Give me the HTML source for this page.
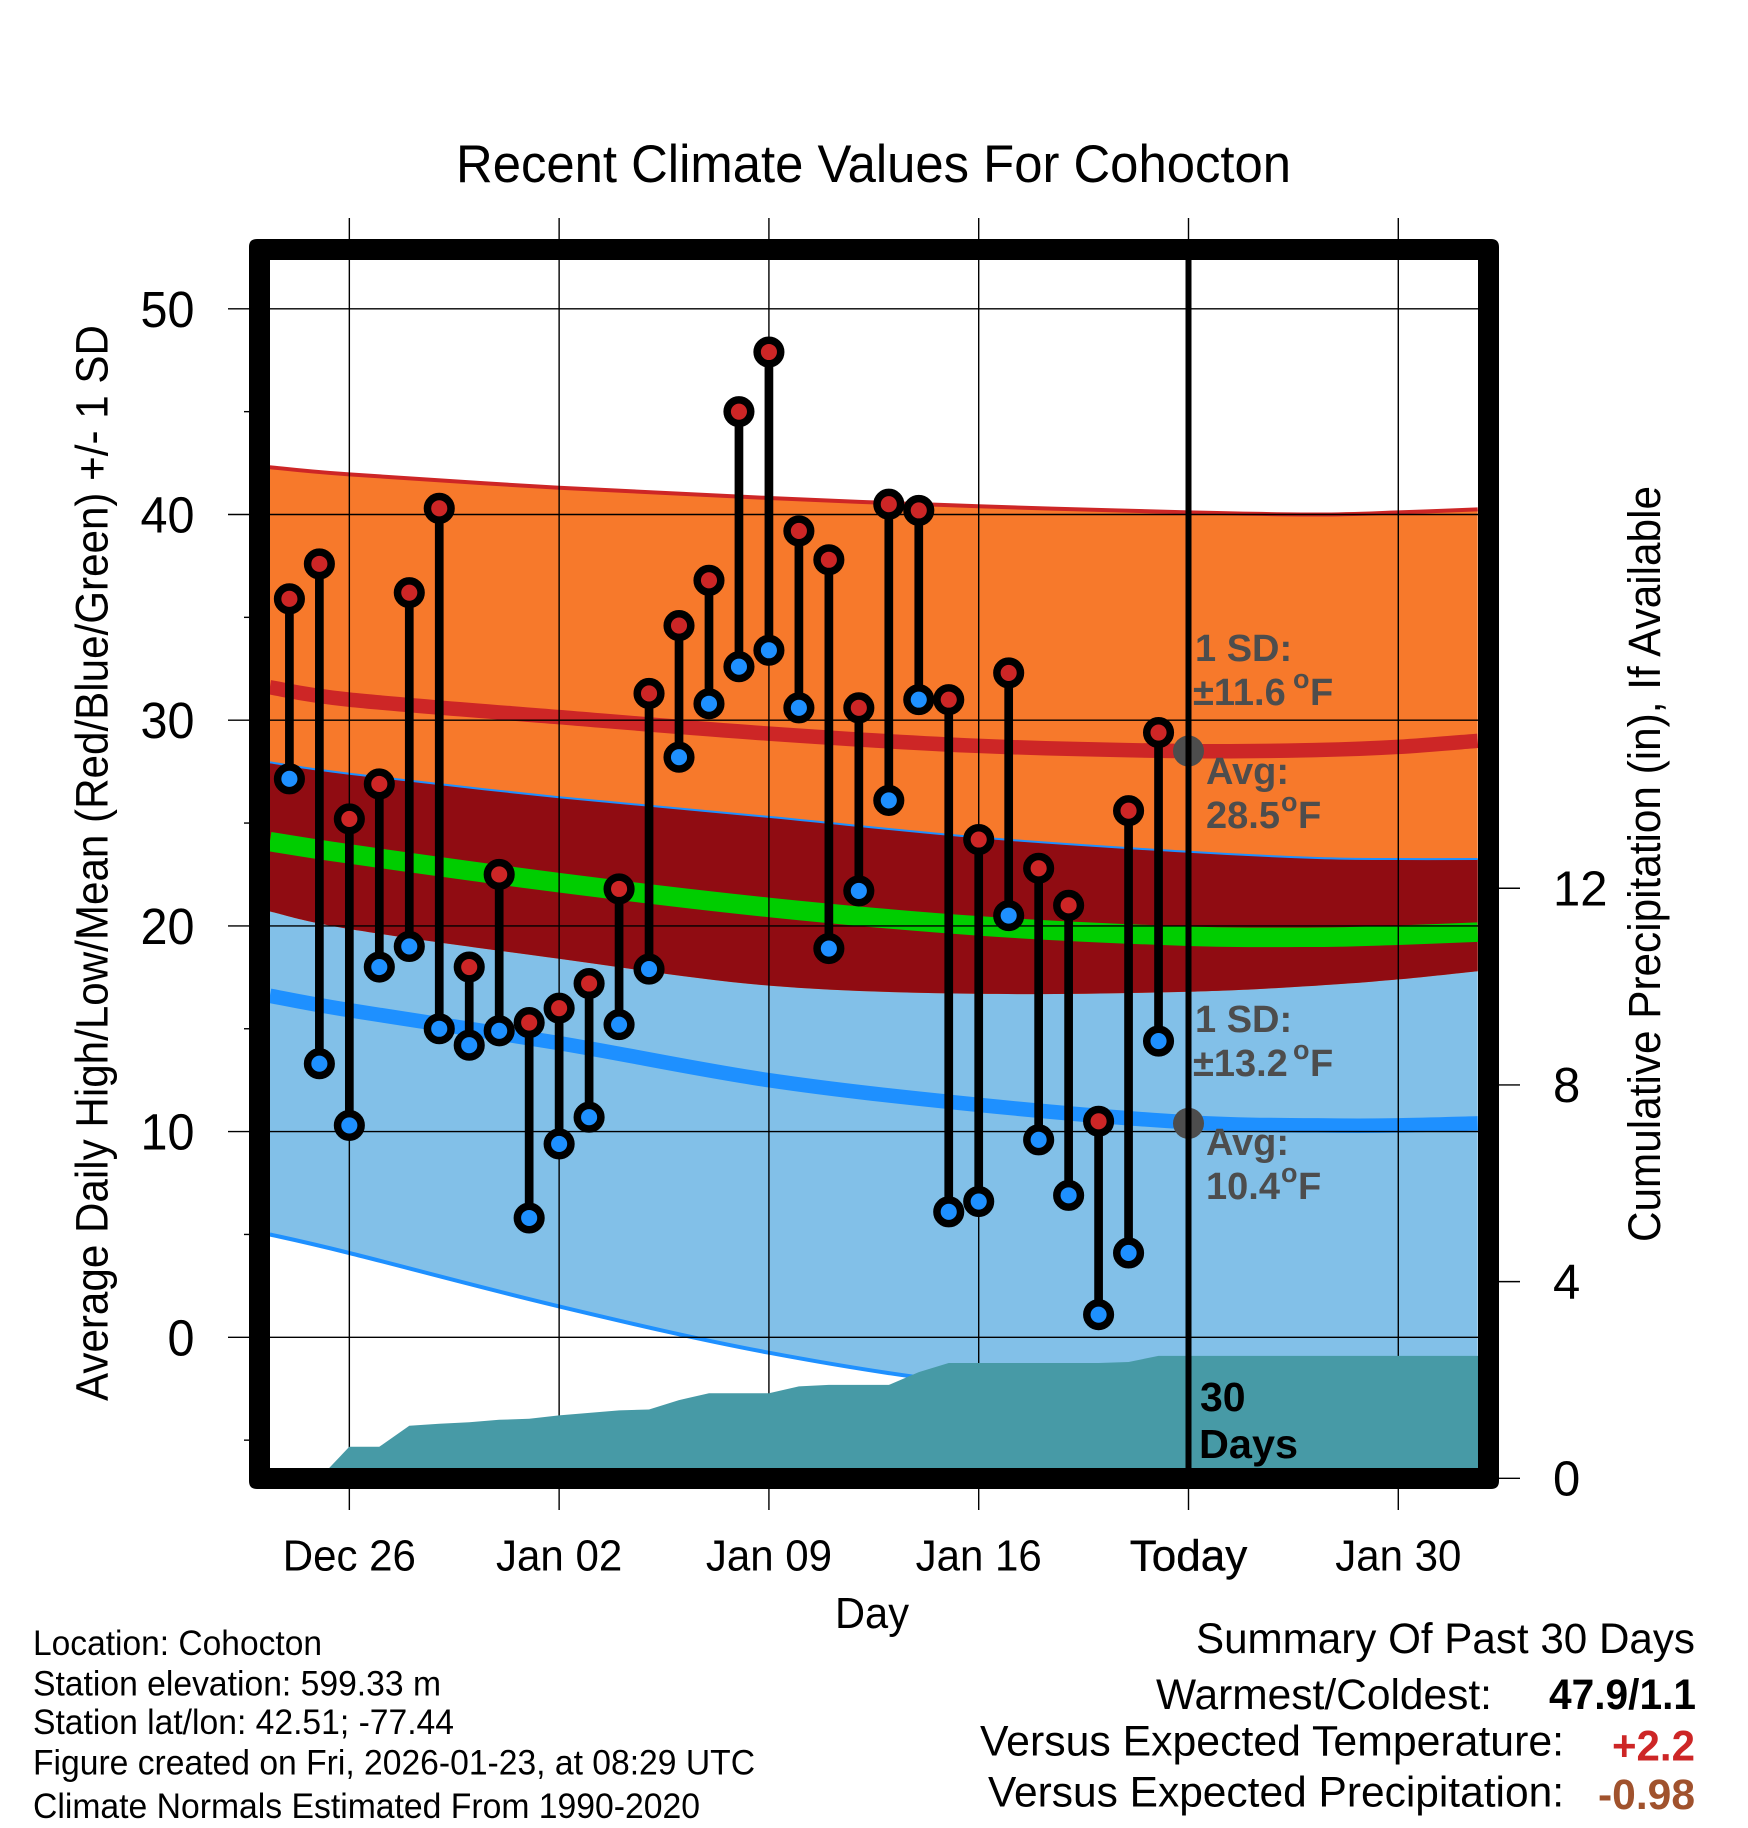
<!DOCTYPE html>
<html lang="en">
<head>
<meta charset="utf-8">
<title>Recent Climate Values For Cohocton</title>
<style>
html,body{margin:0;padding:0;background:#fff;}
svg{display:block;}
text{font-family:"Liberation Sans",Arial,sans-serif;fill:#000;}
.note{font-weight:bold;fill:#4d4d4d;font-size:38px;}
</style>
</head>
<body>
<svg id="chart" xmlns="http://www.w3.org/2000/svg" width="1748" height="1828" viewBox="0 0 1748 1828">
<defs><clipPath id="plot-clip"><rect x="270" y="260" width="1208" height="1208"/></clipPath></defs>
<rect x="0" y="0" width="1748" height="1828" fill="#fff"/>
<g id="bands" clip-path="url(#plot-clip)"></g>
<g id="grid"></g>
<g id="lines" clip-path="url(#plot-clip)"></g>
<g id="precip" clip-path="url(#plot-clip)"></g>
<g id="today"></g>
<g id="marks"></g>
<path fill="#000" fill-rule="evenodd" d="M257 239H1491Q1499 239 1499 247V1481Q1499 1489 1491 1489H257Q249 1489 249 1481V247Q249 239 257 239ZM270 260V1468H1478V260Z"/>
<g id="labels"></g>

<text x="456" y="182" font-size="53" textLength="835" lengthAdjust="spacingAndGlyphs">Recent Climate Values For Cohocton</text>
<text transform="translate(107.5,1401) rotate(-90)" font-size="45" textLength="1076" lengthAdjust="spacingAndGlyphs">Average Daily High/Low/Mean (Red/Blue/Green) +/- 1 SD</text>
<text transform="translate(1660,1242) rotate(-90)" font-size="45" textLength="756" lengthAdjust="spacingAndGlyphs">Cumulative Precipitation (in), If Available</text>
<text x="835" y="1628" font-size="44" textLength="74" lengthAdjust="spacingAndGlyphs">Day</text>

<text class="note" x="1195" y="661">1 SD:</text>
<text class="note" y="705"><tspan x="1193">±11.6</tspan><tspan x="1293" dy="-17" font-size="27">o</tspan><tspan x="1310" dy="17">F</tspan></text>
<text class="note" x="1206" y="784">Avg:</text>
<text class="note" y="828"><tspan x="1206">28.5</tspan><tspan x="1281" dy="-17" font-size="27">o</tspan><tspan x="1298" dy="17">F</tspan></text>
<text class="note" x="1195" y="1032">1 SD:</text>
<text class="note" y="1076"><tspan x="1193">±13.2</tspan><tspan x="1293" dy="-17" font-size="27">o</tspan><tspan x="1310" dy="17">F</tspan></text>
<text class="note" x="1206" y="1155">Avg:</text>
<text class="note" y="1199"><tspan x="1206">10.4</tspan><tspan x="1281" dy="-17" font-size="27">o</tspan><tspan x="1298" dy="17">F</tspan></text>
<text x="1200" y="1411" font-size="41" font-weight="bold">30</text>
<text x="1199" y="1458" font-size="41" font-weight="bold" textLength="99" lengthAdjust="spacingAndGlyphs">Days</text>

<text x="33" y="1655" font-size="35" textLength="289" lengthAdjust="spacingAndGlyphs">Location: Cohocton</text>
<text x="33" y="1695.7" font-size="35" textLength="408" lengthAdjust="spacingAndGlyphs">Station elevation: 599.33 m</text>
<text x="33" y="1734" font-size="35" textLength="421" lengthAdjust="spacingAndGlyphs">Station lat/lon: 42.51; -77.44</text>
<text x="33" y="1774.7" font-size="35" textLength="722" lengthAdjust="spacingAndGlyphs">Figure created on Fri, 2026-01-23, at 08:29 UTC</text>
<text x="33" y="1818" font-size="35" textLength="667" lengthAdjust="spacingAndGlyphs">Climate Normals Estimated From 1990-2020</text>

<text x="1196" y="1653" font-size="43" textLength="499" lengthAdjust="spacingAndGlyphs">Summary Of Past 30 Days</text>
<text x="1156" y="1709" font-size="43" textLength="336" lengthAdjust="spacingAndGlyphs">Warmest/Coldest:</text>
<text x="1549" y="1709" font-size="43" font-weight="bold" textLength="147" lengthAdjust="spacingAndGlyphs">47.9/1.1</text>
<text x="980" y="1755.7" font-size="43" textLength="584" lengthAdjust="spacingAndGlyphs">Versus Expected Temperature:</text>
<text x="1612" y="1760.7" font-size="43" font-weight="bold" textLength="83" lengthAdjust="spacingAndGlyphs" style="fill:#cd2626">+2.2</text>
<text x="988" y="1806.7" font-size="43" textLength="576" lengthAdjust="spacingAndGlyphs">Versus Expected Precipitation:</text>
<text x="1598" y="1809" font-size="43" font-weight="bold" textLength="97" lengthAdjust="spacingAndGlyphs" style="fill:#a0522d">-0.98</text>
</svg>
<script>
// ---- Data (days are counted from Dec 24 = 0) ----
const highs = [35.9,37.6,25.2,26.9,36.2,40.3,18.0,22.5,15.3,16.0,17.2,21.8,31.3,34.6,36.8,45.0,47.9,39.2,37.8,30.6,40.5,40.2,31.0,24.2,32.3,22.8,21.0,10.5,25.6,29.4];
const lows  = [27.15,13.3,10.3,18.0,19.0,15.0,14.2,14.9,5.8,9.4,10.7,15.2,17.9,28.2,30.8,32.6,33.4,30.6,18.9,21.7,26.1,31.0,6.1,6.6,20.5,9.6,6.9,1.1,4.1,14.4];
const precipTotals = [0,0,0.64,0.64,1.07,1.11,1.14,1.19,1.21,1.28,1.33,1.38,1.40,1.59,1.73,1.73,1.73,1.87,1.90,1.90,1.90,2.16,2.345,2.345,2.345,2.345,2.345,2.345,2.365,2.49];
const normalDays = [-0.65,2,9,16,23,30,34.3,37,39.65];
const highUpper = [42.3,41.95,41.3,40.8,40.4,40.1,40.0,40.1,40.25];
const highAvg   = [31.6,31.0,30.15,29.35,28.75,28.5,28.55,28.7,29.0];
const highLower = [20.7,19.85,18.4,17.1,16.7,16.8,17.1,17.4,17.8];
const lowUpper  = [27.95,27.4,26.25,25.3,24.3,23.6,23.3,23.25,23.25];
const lowAvg    = [16.6,15.9,14.3,12.5,11.3,10.45,10.3,10.3,10.4];
const lowLower  = [5.0,4.1,1.5,-0.75,-2.3,-2.8,-3.0,-2.9,-2.7];
const meanAvg   = [24.1,23.5,22.1,20.9,20.0,19.5,19.45,19.55,19.7];
const xTickDays = [2,9,16,23,30,37];
const xTickLabels = ['Dec 26','Jan 02','Jan 09','Jan 16','Today','Jan 30'];
const yTicks = [50,40,30,20,10,0];
const yMinorTicks = [45,35,25,15,5,-5];
const precipTicks = [0,4,8,12];
const todayDay = [30];
const todayAverages = [28.5,10.4];

// ---- Axis functions ----
function xDay(d){return 289.4+29.97*d;}
function yTemp(v){return 1337.3-20.57*v;}
function yPrecip(v){return 1478.3-49.17*v;}

const NS='http://www.w3.org/2000/svg';
function make(parent,tag,attrs,txt){
  const el=document.createElementNS(NS,tag);
  for(const k in attrs){el.setAttribute(k,attrs[k]);}
  if(txt!==undefined){el.textContent=txt;}
  document.getElementById(parent).appendChild(el);
  return el;
}
function pts(days,vals){return days.map((d,i)=>[xDay(d),yTemp(vals[i])]);}
function spline(p){
  let s='';
  for(let i=0;i<p.length-1;i++){
    const a=p[Math.max(i-1,0)],b=p[i],c=p[i+1],d=p[Math.min(i+2,p.length-1)];
    const c1=[b[0]+(c[0]-a[0])/6,b[1]+(c[1]-a[1])/6];
    const c2=[c[0]-(d[0]-b[0])/6,c[1]-(d[1]-b[1])/6];
    s+=' C'+c1[0].toFixed(1)+' '+c1[1].toFixed(1)+' '+c2[0].toFixed(1)+' '+c2[1].toFixed(1)+' '+c[0].toFixed(1)+' '+c[1].toFixed(1);
  }
  return s;
}
function linePath(vals){
  const p=pts(normalDays,vals);
  return 'M'+p[0][0].toFixed(1)+' '+p[0][1].toFixed(1)+spline(p);
}
function bandPath(up,lo){
  const a=pts(normalDays,up),b=pts(normalDays,lo).reverse();
  return 'M'+a[0][0].toFixed(1)+' '+a[0][1].toFixed(1)+spline(a)+' L'+b[0][0].toFixed(1)+' '+b[0][1].toFixed(1)+spline(b)+' Z';
}
let el;

// ---- Bands ----
el=make('bands','path',{d:bandPath(lowUpper,lowLower),fill:'#82c0e8'});


el=make('bands','path',{d:bandPath(highUpper,highLower),fill:'#f7792b'});


el=make('bands','path',{d:bandPath(lowUpper,highLower),fill:'#900c12'});


el=make('bands','path',{d:linePath(highUpper),fill:'none',stroke:'#cd2626',"stroke-width":4});


el=make('bands','path',{d:linePath(lowUpper),fill:'none',stroke:'#1e90ff',"stroke-width":2});


el=make('bands','path',{d:linePath(lowLower),fill:'none',stroke:'#1e90ff',"stroke-width":4});



// ---- Average lines (above the fill, grid drawn over them below) ----
el=make('bands','path',{d:linePath(highAvg),fill:'none',stroke:'#cd2626',"stroke-width":14.5});


el=make('bands','path',{d:linePath(lowAvg),fill:'none',stroke:'#1e90ff',"stroke-width":14.5});


el=make('bands','path',{d:linePath(meanAvg),fill:'none',stroke:'#00cd00',"stroke-width":19.5});



// ---- Grid and ticks ----
xTickDays.forEach(function(d){
  el=make('grid','line',{x1:xDay(d),x2:xDay(d),y1:218,y2:1510,stroke:'#000',"stroke-width":1.4});
  
  
});
yTicks.forEach(function(v){
  el=make('grid','line',{x1:228,x2:1478,y1:yTemp(v),y2:yTemp(v),stroke:'#000',"stroke-width":1.4});
  
  
});
yMinorTicks.forEach(function(v){
  el=make('grid','line',{x1:244,x2:249,y1:yTemp(v),y2:yTemp(v),stroke:'#000',"stroke-width":1.4});
  
  
});
precipTicks.forEach(function(v){
  el=make('grid','line',{x1:1499,x2:1520,y1:yPrecip(v),y2:yPrecip(v),stroke:'#000',"stroke-width":1.4});
  
  
});

// ---- Precipitation ----
(function(){
  let d='M'+xDay(0)+' 1500';
  precipTotals.forEach(function(v,i){d+=' L'+xDay(i).toFixed(1)+' '+yPrecip(v).toFixed(1);});
  d+=' L1490 '+yPrecip(precipTotals[precipTotals.length-1]).toFixed(1)+' L1490 1500 Z';
  el=make('precip','path',{d:d,fill:'#479aa6'});
  
  
})();

// ---- Today ----
todayAverages.forEach(function(v){
  el=make('today','circle',{cx:xDay(todayDay[0]),cy:yTemp(v),r:15.5,fill:'#4d4d4d'});
  
  
});
el=make('today','line',{x1:xDay(todayDay[0]),x2:xDay(todayDay[0]),y1:260,y2:1468,stroke:'#000',"stroke-width":6});



// ---- Daily highs / lows ----
highs.forEach(function(h,i){
  el=make('marks','line',{x1:xDay(i),x2:xDay(i),y1:yTemp(h),y2:yTemp(lows[i]),stroke:'#000',"stroke-width":8.7});
  
  
});
highs.forEach(function(h,i){
  el=make('marks','circle',{cx:xDay(i),cy:yTemp(lows[i]),r:11.8,fill:'#1e90ff',stroke:'#000',"stroke-width":7.5});
  
  
  el=make('marks','circle',{cx:xDay(i),cy:yTemp(h),r:11.8,fill:'#cd2626',stroke:'#000',"stroke-width":7.5});
  
  
});

// ---- Tick labels ----
xTickLabels.forEach(function(t,i){
  el=make('labels','text',{x:xDay(xTickDays[i]),y:1570.7,"font-size":44,"text-anchor":'middle'},t);
  
  
  el.setAttribute('textLength',(el.getComputedTextLength()*(t==='Today'?1:0.955)).toFixed(1));
  el.setAttribute('lengthAdjust','spacingAndGlyphs');
  if(t==='Today'){el.setAttribute('stroke','#000');el.setAttribute('stroke-width','0.4');}
});
yTicks.forEach(function(v){
  const s=String(v);
  el=make('labels','text',{x:194.5-27*s.length,y:yTemp(v)+18,"font-size":51,textLength:27*s.length,lengthAdjust:'spacingAndGlyphs'},s);
  
  
});
precipTicks.forEach(function(v){
  el=make('labels','text',{x:1553,y:yPrecip(v)+17,"font-size":49},String(v));
  
  
});
</script>
</body>
</html>
